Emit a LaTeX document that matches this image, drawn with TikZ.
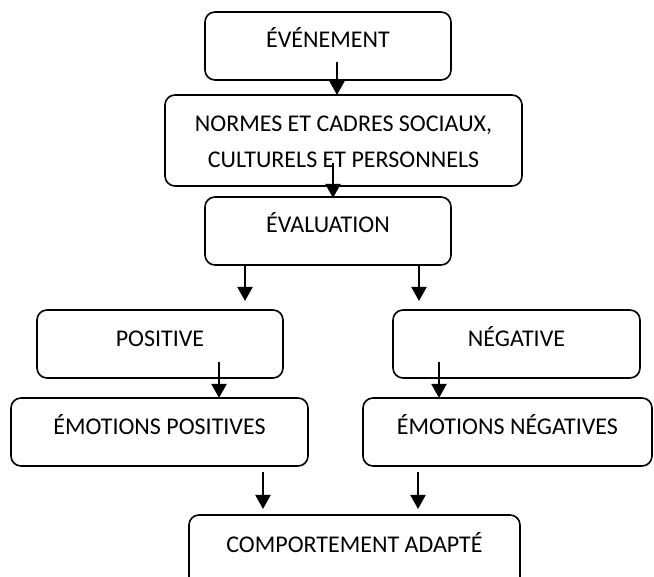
\documentclass[tikz,border=0pt]{standalone}
\usepackage{fontspec}
\setmainfont{Carlito}
\usetikzlibrary{arrows.meta,calc}
\begin{document}
\begin{tikzpicture}[x=1pt,y=-1pt,
  box/.style={draw=black,line width=1.6pt,rounded corners=10pt,inner sep=0pt},
  lbl/.style={font=\fontsize{24}{36}\selectfont,anchor=base,inner sep=0pt},
  arr/.style={line width=2pt,-{Triangle[width=15pt,length=14pt]}}]
\useasboundingbox (0,0) rectangle (654,577);
% boxes (centre, width, height)
\node[box,minimum width=246pt,minimum height=68pt] (evt) at (328,46) {};
\node[box,minimum width=357pt,minimum height=91pt] (nrm) at (343.5,140.5) {};
\node[box,minimum width=246pt,minimum height=68pt] (eva) at (328,231) {};
\node[box,minimum width=246pt,minimum height=68pt] (pos) at (160,344) {};
\node[box,minimum width=247pt,minimum height=68pt] (neg) at (516.5,344) {};
\node[box,minimum width=297pt,minimum height=68pt] (epos) at (159.5,432) {};
\node[box,minimum width=289pt,minimum height=68pt] (eneg) at (507.5,432) {};
\node[box,minimum width=331pt,minimum height=80pt] (cmp) at (354.5,555) {};
% labels (baselines)
\node[lbl] (tevt) at (328,48) {ÉVÉNEMENT};
\node[lbl] (tnrm1) at (343.5,132) {NORMES ET CADRES SOCIAUX,};
\node[lbl] (tnrm2) at (343.5,168) {CULTURELS ET PERSONNELS};
\node[lbl] (teva) at (328,233) {ÉVALUATION};
\node[lbl] (tpos) at (160,347) {POSITIVE};
\node[lbl] (tneg) at (516.5,347) {NÉGATIVE};
\node[lbl] (tepos) at (159.5,435) {ÉMOTIONS POSITIVES};
\node[lbl] (teneg) at (507.5,435) {ÉMOTIONS NÉGATIVES};
\node[lbl] (tcmp) at (354.5,552) {COMPORTEMENT ADAPTÉ};
% arrow ends
\coordinate (a1s) at (337,62);  \coordinate (a1e) at (337,95);
\coordinate (a2s) at (333,163); \coordinate (a2e) at (333,198);
\coordinate (a3s) at (245,265); \coordinate (a3e) at (245,301);
\coordinate (a4s) at (419,265); \coordinate (a4e) at (419,301);
\coordinate (a5s) at (219,362); \coordinate (a5e) at (219,398);
\coordinate (a6s) at (439,362); \coordinate (a6e) at (439,398);
\coordinate (a7s) at (263,472); \coordinate (a7e) at (263,509);
\coordinate (a8s) at (418,472); \coordinate (a8e) at (418,509);
\draw[arr] (a1s) -- (a1e);
\draw[arr] (a2s) -- (a2e);
\draw[arr] (a3s) -- (a3e);
\draw[arr] (a4s) -- (a4e);
\draw[arr] (a5s) -- (a5e);
\draw[arr] (a6s) -- (a6e);
\draw[arr] (a7s) -- (a7e);
\draw[arr] (a8s) -- (a8e);
\end{tikzpicture}
\end{document}
